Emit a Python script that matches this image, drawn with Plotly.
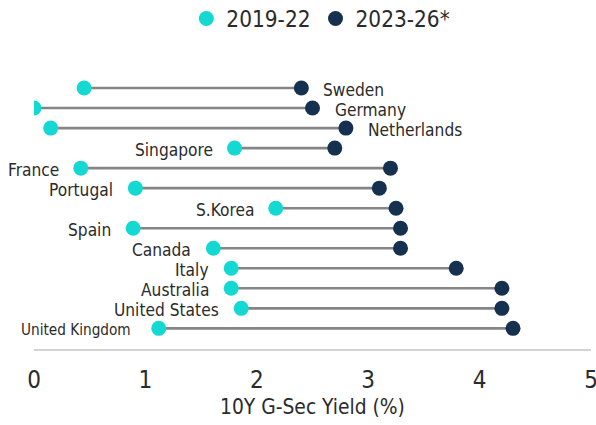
import plotly.graph_objects as go

countries = ["Sweden", "Germany", "Netherlands", "Singapore", "France", "Portugal",
             "S.Korea", "Spain", "Canada", "Italy", "Australia", "United States",
             "United Kingdom"]
y2019_22 = [0.45, 0.0, 0.15, 1.80, 0.42, 0.91, 2.17, 0.89, 1.61, 1.77, 1.77, 1.86, 1.12]
y2023_26 = [2.40, 2.50, 2.80, 2.70, 3.20, 3.10, 3.25, 3.29, 3.29, 3.79, 4.20, 4.20, 4.30]
label_right = ["Sweden", "Germany", "Netherlands"]
x_ticks = [0, 1, 2, 3, 4, 5]

CYAN = "#14d9d2"
NAVY = "#15314f"
TXT = "#2b2b2b"
FONT = "DejaVu Sans Condensed, Roboto, DejaVu Sans"

order = countries[::-1]  # bottom-to-top

lx, ly = [], []
for c, a, b in zip(countries, y2019_22, y2023_26):
    lx += [a, b, None]
    ly += [c, c, None]

fig = go.Figure()
fig.add_trace(go.Scatter(x=lx, y=ly, mode="lines", line=dict(color="#858585", width=2.6),
                         showlegend=False, hoverinfo="skip"))
fig.add_trace(go.Scatter(x=y2019_22, y=countries, mode="markers", name="2019-22",
                         marker=dict(color=CYAN, size=15)))
fig.add_trace(go.Scatter(x=y2023_26, y=countries, mode="markers", name="2023-26*",
                         marker=dict(color=NAVY, size=15)))

ann = []
for c, a, b in zip(countries, y2019_22, y2023_26):
    uk = c == "United Kingdom"
    size = 15.2 if uk else 17.2
    if c in label_right:
        ann.append(dict(x=b, y=c, xref="x", yref="y", text=c, showarrow=False,
                        xanchor="left", xshift=20, yshift=-2,
                        font=dict(family=FONT, size=size, color=TXT)))
    else:
        ann.append(dict(x=a, y=c, xref="x", yref="y", text=c, showarrow=False,
                        xanchor="right", xshift=-26 if uk else -20, yshift=-1.5,
                        font=dict(family=FONT, size=size, color=TXT)))

fig.update_layout(
    width=596, height=425,
    margin=dict(l=34, r=5, t=68, b=76),
    paper_bgcolor="white", plot_bgcolor="white",
    font=dict(family=FONT, color=TXT),
    annotations=ann,
    legend=dict(orientation="h", x=0.515, xanchor="center", yref="container",
                y=1 - 19 / 425, yanchor="middle", font=dict(size=22.4, family=FONT, color=TXT),
                itemwidth=30, bgcolor="rgba(0,0,0,0)"),
    xaxis=dict(range=[0, 5], tickvals=x_ticks, showgrid=False, zeroline=False,
               showline=True, linecolor="#d3d3d3", linewidth=2,
               ticks="", ticklabelstandoff=8, automargin=False,
               ticklabeloverflow="allow",
               tickfont=dict(size=24, family=FONT, color=TXT),
               title=dict(text="10Y G-Sec Yield (%)", font=dict(size=20.8, family=FONT, color=TXT),
                          standoff=7)),
    yaxis=dict(type="category", categoryorder="array", categoryarray=order,
               range=[-1.03, 13], showticklabels=False, showgrid=False,
               zeroline=False, showline=False, ticks="", automargin=False),
)

fig.write_html("out.html", config={"displayModeBar": False},
               post_script="document.body.style.margin='0px';document.body.style.overflow='hidden';")
